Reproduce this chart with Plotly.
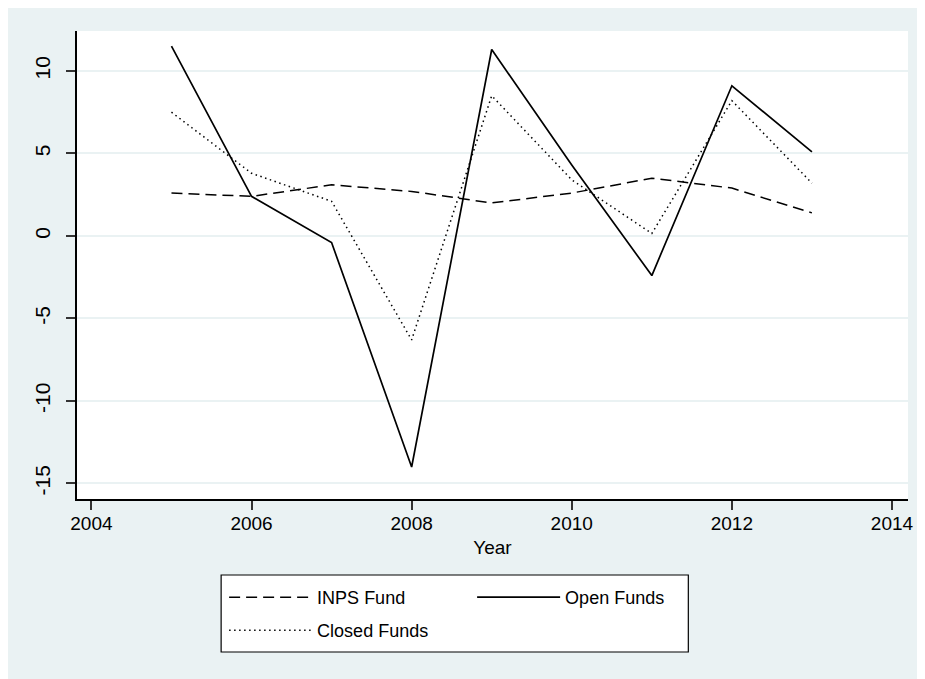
import plotly.graph_objects as go

years = [2005, 2006, 2007, 2008, 2009, 2010, 2011, 2012, 2013]
inps_fund = [2.6, 2.4, 3.1, 2.7, 2.0, 2.6, 3.5, 2.9, 1.4]
open_funds = [11.5, 2.4, -0.4, -14.0, 11.3, 4.3, -2.4, 9.1, 5.1]
closed_funds = [7.5, 3.8, 2.1, -6.3, 8.5, 3.4, 0.15, 8.2, 3.2]

x_ticks = [2004, 2006, 2008, 2010, 2012, 2014]
y_ticks = [-15, -10, -5, 0, 5, 10]
y_ticktext = ["-15", "-10", "-5", "0", "5", "10"]

BG = "#EAF2F3"
FONT = "Liberation Sans, Arial, sans-serif"

# page has an 8px body margin, so the figure is 917x671
OFF = 8
W, H = 917, 671
L, R, T, B = 69, 12, 23, 180
PW, PH = W - L - R, H - T - B

def px_x(p):  # screenshot x -> paper
    return (p - OFF - L) / PW

def px_y(p):  # screenshot y -> paper
    return (H - B - (p - OFF)) / PH

fig = go.Figure()
fig.add_trace(go.Scatter(x=years, y=inps_fund, mode="lines", name="INPS Fund",
                         line=dict(color="black", width=1.5, dash="11px,6px"),
                         legend="legend"))
fig.add_trace(go.Scatter(x=years, y=open_funds, mode="lines", name="Open Funds",
                         line=dict(color="black", width=1.7),
                         legend="legend"))
fig.add_trace(go.Scatter(x=years, y=closed_funds, mode="lines", name="Closed Funds",
                         line=dict(color="black", width=1.5, dash="1.5px,3.5px"),
                         legend="legend2"))

shapes = [
    dict(type="rect", xref="paper", yref="paper", x0=px_x(222), x1=px_x(692), y0=px_y(652), y1=px_y(575),
         fillcolor="white", line=dict(color="black", width=1.2), layer="below"),
]

fig.update_layout(
    width=W, height=H,
    margin=dict(l=L, r=R, t=T, b=B),
    paper_bgcolor=BG, plot_bgcolor="white",
    font=dict(family=FONT, color="black", size=19),
    shapes=shapes,
    showlegend=True,
    legend=dict(orientation="h", x=px_x(225), y=px_y(579), xanchor="left", yanchor="top",
                bgcolor="rgba(0,0,0,0)", borderwidth=0, itemwidth=83, entrywidth=150,
                font=dict(size=18, family=FONT), traceorder="normal"),
    legend2=dict(orientation="h", x=px_x(225), y=px_y(612), xanchor="left", yanchor="top",
                 bgcolor="rgba(0,0,0,0)", borderwidth=0, itemwidth=83,
                 font=dict(size=18, family=FONT)),
    xaxis=dict(range=[2003.82, 2014.2], tickvals=x_ticks, ticks="outside", ticklen=9,
               tickwidth=1.5, tickcolor="#333", showline=True, linecolor="black", linewidth=1.5,
               showgrid=False, zeroline=False, ticklabelstandoff=-3,
               title=dict(text="Year", font=dict(size=19), standoff=8),
               tickfont=dict(size=19)),
    yaxis=dict(range=[-15.94, 12.42], tickvals=y_ticks, ticktext=y_ticktext, ticks="outside",
               ticklen=9, tickwidth=1.5, tickcolor="#333", tickangle=-90, ticklabelstandoff=8,
               showline=True, linecolor="black", linewidth=1.5,
               showgrid=True, gridcolor=BG, gridwidth=1.5, zeroline=False,
               tickfont=dict(size=21)),
)

fig.write_html("out.html")
